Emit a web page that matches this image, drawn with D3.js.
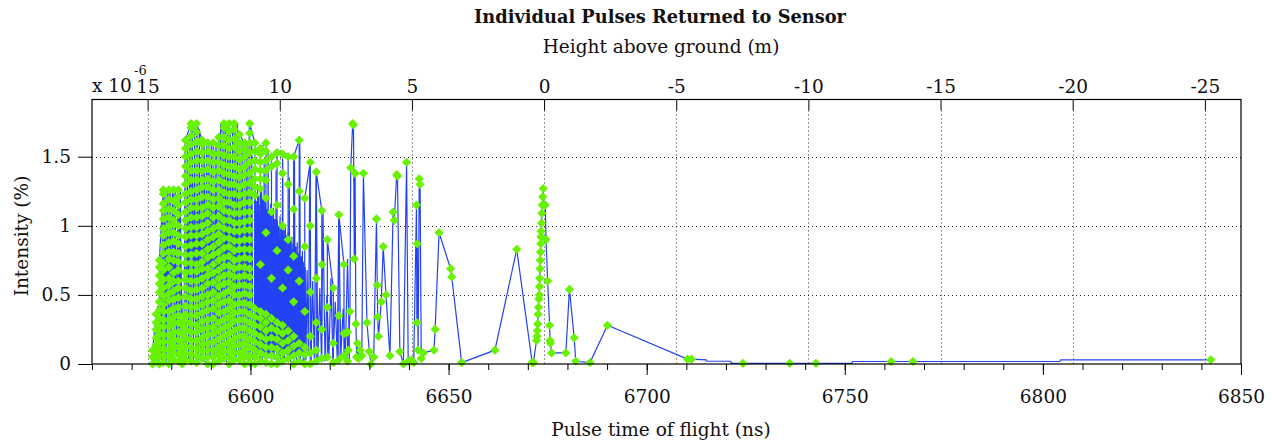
<!DOCTYPE html>
<html>
<head>
<meta charset="utf-8">
<title>Individual Pulses Returned to Sensor</title>
<script src="https://d3js.org/d3.v7.min.js"></script>
<style>
  body { margin: 0; background: #fff; }
  text { font-family: "DejaVu Serif", serif; fill: #111; }
</style>
</head>
<body>
<div id="chart"></div>
<script>
// dense part: returns stacked at (nearly) the same time, read column by column
const returnTimes = [6575.3, 6576.2, 6577.0, 6578.0, 6579.4, 6580.6, 6581.8, 6582.8, 6583.6, 6585.0,
  6586.4, 6587.8, 6589.2, 6590.6, 6592.0, 6593.3, 6594.6, 6595.9, 6597.2, 6598.5,
  6599.8, 6601.1, 6602.5, 6603.9, 6605.3, 6606.7, 6608.1, 6609.5, 6610.9, 6612.3,
  6613.7, 6615.1, 6616.6, 6618.0, 6619.4, 6620.9, 6622.3, 6623.6, 6624.5];
const returnLevels = [
  [0, 0.05, 0.1],
  [0.36, 0.3, 0.25, 0.19, 0.14, 0.08, 0.03],
  [0, 0.06, 0.11, 0.16, 0.22, 0.27, 0.33, 0.39, 0.45, 0.52, 0.58, 0.64, 0.7, 0.75],
  [1.26, 1.23, 1.16, 1.11, 1.05, 0.98, 0.93, 0.86, 0.8, 0.73, 0.68, 0.61, 0.55, 0.49, 0.43, 0.38, 0.32, 0.27, 0.21, 0.16, 0.11, 0.06, 0.01],
  [0, 0.05, 0.1, 0.16, 0.21, 0.27, 0.32, 0.38, 0.46, 0.51, 0.57, 0.62, 0.7, 0.76, 0.81, 0.88, 0.95, 1.0, 1.06, 1.12, 1.19, 1.26],
  [1.26, 1.18, 1.11, 1.04, 1.01, 0.95, 0.89, 0.81, 0.75, 0.66, 0.6, 0.53, 0.47, 0.4, 0.34, 0.29, 0.23, 0.18, 0.13, 0.08, 0.03],
  [0.02, 0.07, 0.12, 0.17, 0.23, 0.3, 0.35, 0.41, 0.48, 0.55, 0.6, 0.68, 0.74, 0.8, 0.87, 0.93, 1.0, 1.08, 1.15, 1.21, 1.26],
  [0.34, 0.28, 0.22, 0.16, 0.11, 0.05, 0],
  [0.03, 0.08, 0.13, 0.19, 0.25, 0.31, 0.36, 0.42, 0.49, 0.55, 0.61, 0.66, 0.73, 0.79, 0.85, 0.92, 0.98, 1.04, 1.1, 1.17, 1.23, 1.3, 1.36, 1.43, 1.5, 1.56, 1.62],
  [1.74, 1.71, 1.65, 1.59, 1.52, 1.46, 1.4, 1.33, 1.25, 1.19, 1.13, 1.06, 0.99, 0.93, 0.86, 0.79, 0.73, 0.67, 0.6, 0.53, 0.47, 0.41, 0.35, 0.29, 0.23, 0.17, 0.12, 0.07, 0.02],
  [0.01, 0.06, 0.11, 0.17, 0.23, 0.28, 0.35, 0.41, 0.47, 0.54, 0.6, 0.67, 0.72, 0.8, 0.87, 0.93, 0.99, 1.06, 1.13, 1.19, 1.26, 1.33, 1.4, 1.47, 1.54, 1.61, 1.68, 1.74],
  [1.62, 1.59, 1.53, 1.47, 1.4, 1.33, 1.28, 1.21, 1.13, 1.07, 1.0, 0.94, 0.87, 0.8, 0.74, 0.69, 0.62, 0.55, 0.49, 0.43, 0.37, 0.31, 0.25, 0.19, 0.14, 0.09, 0.04],
  [0, 0.05, 0.1, 0.15, 0.21, 0.26, 0.32, 0.39, 0.45, 0.5, 0.58, 0.64, 0.69, 0.77, 0.83, 0.9, 0.96, 1.02, 1.09, 1.15, 1.21, 1.28, 1.34, 1.41, 1.47, 1.54, 1.6],
  [1.6, 1.52, 1.46, 1.39, 1.32, 1.26, 1.19, 1.13, 1.06, 0.98, 0.92, 0.85, 0.79, 0.72, 0.66, 0.59, 0.52, 0.46, 0.4, 0.33, 0.27, 0.22, 0.16, 0.1, 0.05, 0],
  [0.02, 0.07, 0.12, 0.18, 0.24, 0.3, 0.37, 0.43, 0.49, 0.56, 0.62, 0.68, 0.75, 0.81, 0.88, 0.94, 1.0, 1.07, 1.14, 1.2, 1.26, 1.33, 1.4, 1.46, 1.52, 1.58, 1.64],
  [1.74, 1.71, 1.64, 1.58, 1.51, 1.44, 1.38, 1.31, 1.24, 1.17, 1.11, 1.04, 0.98, 0.91, 0.84, 0.77, 0.71, 0.64, 0.58, 0.51, 0.45, 0.38, 0.32, 0.26, 0.2, 0.14, 0.09, 0.04],
  [0, 0.05, 0.1, 0.16, 0.22, 0.28, 0.34, 0.4, 0.46, 0.53, 0.59, 0.65, 0.71, 0.78, 0.85, 0.91, 0.97, 1.04, 1.1, 1.17, 1.23, 1.3, 1.37, 1.43, 1.5, 1.56, 1.62, 1.68, 1.74],
  [1.74, 1.7, 1.63, 1.57, 1.5, 1.43, 1.36, 1.3, 1.23, 1.15, 1.09, 1.02, 0.96, 0.89, 0.82, 0.75, 0.69, 0.63, 0.56, 0.5, 0.43, 0.37, 0.31, 0.24, 0.18, 0.13, 0.08, 0.03],
  [0.03, 0.08, 0.14, 0.2, 0.26, 0.32, 0.38, 0.44, 0.5, 0.57, 0.63, 0.7, 0.76, 0.83, 0.89, 0.96, 1.02, 1.09, 1.15, 1.22, 1.28, 1.35, 1.41, 1.48, 1.54, 1.6, 1.66],
  [1.6, 1.56, 1.5, 1.43, 1.37, 1.3, 1.23, 1.17, 1.1, 1.03, 0.97, 0.9, 0.83, 0.77, 0.7, 0.64, 0.57, 0.51, 0.44, 0.38, 0.32, 0.26, 0.2, 0.15, 0.1, 0.05, 0],
  [0.01, 0.06, 0.12, 0.18, 0.24, 0.3, 0.36, 0.43, 0.5, 0.56, 0.63, 0.69, 0.76, 0.83, 0.9, 0.97, 1.04, 1.1, 1.17, 1.24, 1.31, 1.38, 1.46, 1.53, 1.6, 1.67, 1.74],
  [1.6, 1.54, 1.47, 1.41, 1.34, 1.28, 1.22, 0.4, 0.34, 0.28, 0.22, 0.16, 0.1, 0.05, 0],
  [0.02, 0.08, 0.14, 0.2, 0.27, 0.33, 0.38, 0.72, 1.27, 1.34, 1.4, 1.46, 1.52, 1.56],
  [1.6, 1.54, 1.47, 1.4, 1.33, 1.2, 0.95, 0.36, 0.3, 0.24, 0.18, 0.12, 0.06, 0.01],
  [0, 0.06, 0.12, 0.19, 0.26, 0.33, 0.62, 1.1, 1.43, 1.5],
  [1.53, 1.45, 1.15, 0.82, 0.3, 0.24, 0.18, 0.11, 0.05, 0],
  [0.02, 0.08, 0.15, 0.22, 0.28, 0.55, 1.0, 1.38, 1.52],
  [1.5, 1.3, 0.9, 0.68, 0.24, 0.17, 0.1, 0.04],
  [0, 0.06, 0.13, 0.2, 0.45, 0.78, 1.12, 1.5],
  [1.62, 1.25, 0.6, 0.15, 0.08, 0.02],
  [0, 0.07, 0.12, 0.38, 0.85, 1.2],
  [1.46, 1.0, 0.52, 0.2, 0.08, 0],
  [0.02, 0.1, 0.3, 0.62, 1.39],
  [1.11, 0.72, 0.25, 0.04],
  [0.05, 0.41, 0.9],
  [0.55, 0.15, 0.01],
  [0.03, 0.35, 1.08],
  [0.72, 0.22, 0.06],
  [0.02, 0.23]
];

// waveform samples under the early returns (line only)
const earlyWaveTimes = [6576.4, 6576.6, 6576.9, 6577.2, 6577.5, 6577.8, 6578.1, 6578.4, 6578.7, 6579.0,
  6579.3, 6579.7, 6580.0, 6580.3, 6580.7, 6581.0, 6581.3, 6581.7, 6582.0, 6582.3,
  6582.6, 6582.9, 6583.2, 6583.5, 6583.8, 6584.1, 6584.4, 6584.7, 6585.0, 6585.3,
  6585.6, 6585.9, 6586.2, 6586.5, 6586.8, 6587.1, 6587.4, 6587.7, 6588.0, 6588.3,
  6588.6, 6588.9, 6589.2, 6589.5, 6589.8, 6590.1, 6590.4, 6590.7, 6591.0, 6591.3,
  6591.6, 6591.9, 6592.2, 6592.5, 6592.8, 6593.1, 6593.4, 6593.7, 6594.0, 6594.3,
  6594.6, 6594.9, 6595.2, 6595.5, 6595.8, 6596.1, 6596.4, 6596.7, 6597.0, 6597.3,
  6597.6, 6597.9, 6598.2, 6598.5, 6598.8, 6599.1, 6599.4, 6599.7, 6600.0, 6600.3,
  6600.6];
const earlyWaveIntensity = [0.02, 0.42, 0.05, 0.8, 0.03, 1.1, 0.06, 1.26, 0.02, 1.26,
  0.08, 1.26, 0.04, 1.24, 0.02, 1.26, 0.05, 1.26, 0.03, 1.26,
  0.02, 0.3, 0.04, 1.6, 0.06, 1.62, 0.02, 1.65, 0.05, 1.74,
  0.03, 1.72, 0.07, 1.74, 0.02, 1.7, 0.05, 1.62, 0.03, 1.6,
  0.06, 1.58, 0.02, 1.6, 0.04, 1.6, 0.07, 1.57, 0.03, 1.6,
  0.05, 1.62, 0.02, 1.74, 0.06, 1.72, 0.03, 1.74, 0.05, 1.74,
  0.02, 1.7, 0.07, 1.74, 0.03, 1.73, 0.05, 1.74, 0.02, 1.62,
  0.06, 1.6, 0.03, 1.58, 0.05, 1.6, 0.02, 1.74, 0.04, 1.6,
  0.03];

// waveform samples between the later returns (line only)
const waveTimes = [6601.0, 6601.15, 6601.3, 6601.45, 6601.6, 6601.8, 6601.95, 6602.1, 6602.3, 6602.45,
  6602.6, 6602.8, 6602.95, 6603.1, 6603.3, 6603.45, 6603.6, 6603.8, 6603.95, 6604.1,
  6604.3, 6604.45, 6604.6, 6604.8, 6604.95, 6605.1, 6605.3, 6605.45, 6605.6, 6605.8,
  6605.95, 6606.1, 6606.3, 6606.45, 6606.6, 6606.8, 6606.95, 6607.1, 6607.3, 6607.45,
  6607.6, 6607.8, 6607.95, 6608.1, 6608.3, 6608.45, 6608.6, 6608.8, 6608.95, 6609.1,
  6609.3, 6609.45, 6609.6, 6609.8, 6609.95, 6610.1, 6610.3, 6610.45, 6610.6, 6610.8,
  6610.95, 6611.1, 6611.3, 6611.45, 6611.6, 6611.8, 6611.95, 6612.1, 6612.3, 6612.45,
  6612.6, 6612.8, 6612.95, 6613.1, 6613.3, 6613.45, 6613.6, 6613.8, 6614.0, 6614.3,
  6614.6, 6615.0, 6615.3, 6615.7, 6616.1, 6616.6, 6617.0, 6617.5, 6617.9, 6618.3,
  6618.8, 6619.3, 6619.8, 6620.3, 6620.8, 6621.4, 6621.9, 6622.3, 6622.8, 6623.4,
  6623.9, 6624.5, 6625.0];
const waveIntensity = [0.05, 1.25, 0.08, 1.18, 0.03, 1.3, 0.1, 1.22, 0.04, 1.15,
  0.07, 1.28, 0.02, 1.2, 0.09, 1.45, 0.05, 1.17, 0.03, 1.12,
  0.08, 1.55, 0.04, 1.1, 0.06, 1.16, 0.02, 1.08, 0.07, 1.13,
  0.03, 1.05, 0.09, 1.4, 0.05, 1.04, 0.02, 1.0, 0.06, 1.07,
  0.03, 0.98, 0.08, 1.45, 0.04, 0.97, 0.02, 1.0, 0.07, 0.93,
  0.03, 0.95, 0.06, 1.35, 0.02, 0.9, 0.05, 0.92, 0.08, 0.87,
  0.03, 1.5, 0.06, 0.85, 0.02, 0.88, 0.07, 0.8, 0.04, 1.62,
  0.03, 0.78, 0.06, 0.82, 0.02, 0.74, 0.05, 0.7, 0.03, 0.68,
  0.06, 1.46, 0.02, 0.6, 0.04, 1.39, 0.03, 0.55, 0.05, 1.11,
  0.02, 0.5, 0.04, 0.62, 0.02, 0.45, 0.03, 1.08, 0.05, 0.4,
  0.02, 0.76, 0.03];

// later, separated returns (line and markers)
const tailTimes = [6624.3, 6624.7, 6625.1, 6625.3, 6625.8, 6626.0, 6626.2, 6626.4, 6626.6, 6626.8,
  6627.0, 6627.3, 6627.7, 6628.1, 6628.5, 6629.4, 6630.0, 6630.4, 6631.1, 6631.8,
  6632.0, 6632.1, 6632.3, 6633.0, 6633.5, 6634.2, 6635.2, 6636.0, 6636.3, 6636.9,
  6637.1, 6637.7, 6638.6, 6639.4, 6639.8, 6640.5, 6641.2, 6641.9, 6642.0, 6642.1,
  6642.3, 6642.6, 6642.8, 6643.1, 6643.6, 6646.3, 6646.6, 6647.6, 6650.5, 6650.8,
  6653.3, 6661.7, 6667.2, 6671.1, 6671.4, 6672.2, 6672.3, 6672.4, 6672.5, 6672.6,
  6672.7, 6672.8, 6672.9, 6672.95, 6673.0, 6673.1, 6673.15, 6673.2, 6673.25, 6673.3,
  6673.35, 6673.45, 6673.55, 6673.65, 6673.75, 6673.9, 6674.1, 6674.4, 6674.6, 6675.0,
  6675.5, 6675.6, 6675.7, 6676.0, 6679.6, 6680.5, 6681.7, 6682.1, 6685.7, 6690.1,
  6710.3, 6711.3, 6724.3, 6736.1, 6742.7, 6761.7, 6767.2, 6842.4];
const tailIntensity = [0.23, 0.1, 0.38, 1.42, 1.74, 1.73, 0.76, 1.38, 0.29, 0.05,
  0.15, 0.04, 0.1, 0.06, 1.38, 0.3, 0.09, 0.0, 0.05, 1.05,
  0.57, 0.34, 0.2, 0.45, 0.85, 0.5, 0.06, 1.1, 1.04, 1.37,
  1.36, 0.09, 0.0, 1.46, 0.02, 0.03, 0.01, 1.15, 0.3, 0.87,
  0.1, 1.34, 1.3, 0.04, 0.08, 0.1, 0.25, 0.95, 0.69, 0.63,
  0.01, 0.1, 0.83, 0.01, 0.01, 0.17, 0.2, 0.24, 0.29, 0.36,
  0.41, 0.47, 0.5, 0.56, 0.62, 0.69, 0.75, 0.81, 0.87, 0.92,
  0.96, 1.02, 1.09, 1.15, 1.21, 1.27, 1.15, 1.15, 0.9, 0.6,
  0.28, 0.17, 0.15, 0.08, 0.08, 0.54, 0.19, 0.02, 0.01, 0.28,
  0.035, 0.035, 0.005, 0.005, 0.005, 0.018, 0.018, 0.03];
// flat steps of the trailing waveform (line only)
const stepTimes = [6715.0, 6715.2, 6721.2, 6721.4, 6751.8, 6752.0, 6804.3, 6804.5];
const stepIntensity = [0.03, 0.02, 0.02, 0.005, 0.005, 0.018, 0.018, 0.03];

const metresPerNs = 0.1499;   // c / 2
const groundTime = 6674.1;    // time of flight at 0 m
const intensityTicks = [0, 0.5, 1, 1.5];
const timeMajorTicks = [6600, 6650, 6700, 6750, 6800, 6850];
const timeMinorTicks = d3.range(6560, 6851, 10);
const heightTicks = [15, 10, 5, 0, -5, -10, -15, -20, -25];

const width = 1276, height = 445;
const plotLeft = 92, plotRight = 1241, plotTop = 99.5, plotBottom = 364;

const svg = d3.select("#chart").append("svg")
  .attr("width", width)
  .attr("height", height);

const x = d3.scaleLinear().domain([6560, 6850]).range([plotLeft, plotRight]);
const y = d3.scaleLinear().domain([0, 1.914]).range([plotBottom, plotTop]);
const hScale = d3.scaleLinear()
  .domain(x.domain().map(t => (groundTime - t) * metresPerNs))
  .range([plotLeft, plotRight]);

// grid
const grid = svg.append("g")
  .attr("stroke", "#333")
  .attr("stroke-width", 1)
  .attr("stroke-dasharray", "1,3");
grid.selectAll(".hg").data(intensityTicks.slice(1)).enter().append("line")
  .attr("x1", plotLeft).attr("x2", plotRight)
  .attr("y1", d => Math.round(y(d)) + 0.5).attr("y2", d => Math.round(y(d)) + 0.5);
grid.selectAll(".vg").data(heightTicks).enter().append("line")
  .attr("x1", d => Math.round(hScale(d)) + 0.5).attr("x2", d => Math.round(hScale(d)) + 0.5)
  .attr("y1", plotTop + 11).attr("y2", plotBottom);

// data
const line = d3.line().x(d => x(d[0])).y(d => y(d[1]));
const returnPoints = returnTimes.flatMap((t, i) => returnLevels[i].map(v => [t, v]));
const earlyWavePoints = earlyWaveTimes.map((t, i) => [t, earlyWaveIntensity[i]]);
const wavePoints = waveTimes.map((t, i) => [t, waveIntensity[i]]);
const tailPoints = tailTimes.map((t, i) => [t, tailIntensity[i]]);
const tailLine = tailPoints.concat(stepTimes.map((t, i) => [t, stepIntensity[i]]))
  .sort((a, b) => a[0] - b[0]);

const blue = "#2342f5", green = "#66f200";
[earlyWavePoints, returnPoints, wavePoints, tailLine].forEach(pts => {
  svg.append("path")
    .datum(pts)
    .attr("fill", "none")
    .attr("stroke", blue)
    .attr("stroke-width", 1.2)
    .attr("d", line);
});

const diamond = "M0,-4.6L4.6,0L0,4.6L-4.6,0Z";
svg.append("g").selectAll("path")
  .data(returnPoints.concat(tailPoints))
  .enter().append("path")
  .attr("d", diamond)
  .attr("fill", green)
  .attr("transform", d => "translate(" + x(d[0]) + "," + y(d[1]) + ")");

// axes
function styleAxis(g, size) {
  g.select(".domain").remove();
  g.selectAll("line").attr("stroke", "#000");
  g.selectAll("text").attr("font-family", "DejaVu Serif, serif").attr("font-size", size).attr("fill", "#111");
}

svg.append("g")
  .attr("transform", "translate(0," + plotBottom + ")")
  .call(d3.axisBottom(x).tickValues(timeMinorTicks).tickSize(6).tickFormat(""))
  .call(g => styleAxis(g, 18));

svg.append("g")
  .attr("transform", "translate(0," + plotBottom + ")")
  .call(d3.axisBottom(x).tickValues(timeMajorTicks).tickSize(11).tickFormat(d => d))
  .call(g => styleAxis(g, 18.5))
  .call(g => g.selectAll("text").attr("y", 39).attr("dy", 0));

svg.append("g")
  .attr("transform", "translate(" + plotLeft + ",0)")
  .call(d3.axisLeft(y).tickValues(intensityTicks).tickSize(14).tickPadding(7).tickFormat(d => d))
  .call(g => styleAxis(g, 18.5));

svg.append("g")
  .attr("transform", "translate(0," + plotTop + ")")
  .call(d3.axisTop(hScale).tickValues(heightTicks).tickSize(-11).tickPadding(7).tickFormat(d => String(d)))
  .call(g => styleAxis(g, 18.5));

// frame
svg.append("rect")
  .attr("x", plotLeft).attr("y", plotTop)
  .attr("width", plotRight - plotLeft).attr("height", plotBottom - plotTop)
  .attr("fill", "none")
  .attr("stroke", "#000")
  .attr("stroke-width", 1.2);

// labels
svg.append("text")
  .attr("x", 660).attr("y", 23)
  .attr("text-anchor", "middle")
  .attr("font-size", 17.8)
  .attr("font-weight", "bold")
  .text("Individual Pulses Returned to Sensor");

svg.append("text")
  .attr("x", 661).attr("y", 53)
  .attr("text-anchor", "middle")
  .attr("font-size", 18.5)
  .text("Height above ground (m)");

svg.append("text")
  .attr("x", 661).attr("y", 436)
  .attr("text-anchor", "middle")
  .attr("font-size", 18.5)
  .text("Pulse time of flight (ns)");

svg.append("text")
  .attr("transform", "translate(28,236) rotate(-90)")
  .attr("text-anchor", "middle")
  .attr("font-size", 18.5)
  .text("Intensity (%)");

svg.append("text")
  .attr("x", 92).attr("y", 92)
  .attr("font-size", 18.5)
  .text("x 10");
svg.append("text")
  .attr("x", 134).attr("y", 75)
  .attr("font-size", 13)
  .text("-6");
</script>
</body>
</html>
